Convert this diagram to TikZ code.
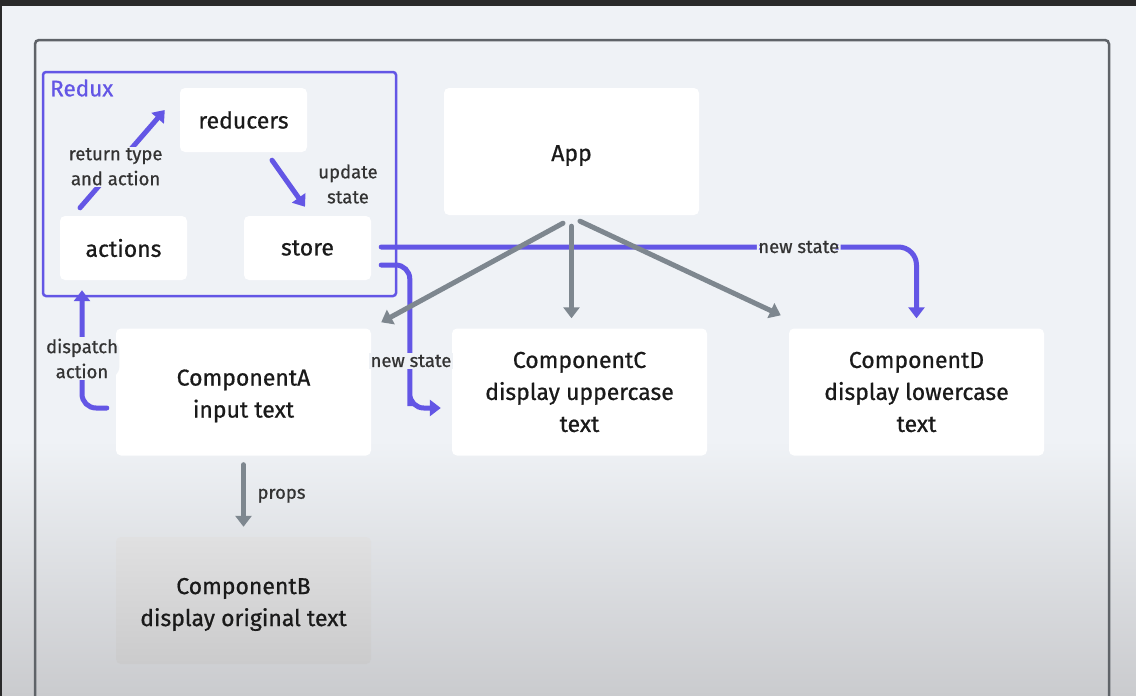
\documentclass[tikz,border=0pt]{standalone}
\usepackage{fontspec}
\setmainfont{Fira Sans}[FakeBold=0.7]
\usetikzlibrary{arrows.meta,calc}
\definecolor{bgc}{HTML}{EFF2F6}
\definecolor{bgbot}{HTML}{CACBCE}
\definecolor{darkbar}{HTML}{2A2A2A}
\definecolor{framec}{HTML}{5F6368}
\definecolor{pur}{HTML}{6356E5}
\definecolor{grayc}{HTML}{7E878F}
\definecolor{txt}{HTML}{1A1A1A}
\definecolor{lbltxt}{HTML}{333333}
\definecolor{btop}{HTML}{E0E0E1}
\definecolor{bbot}{HTML}{CBCBCC}
\newcommand{\dnstrut}{\rule{0pt}{24pt}}
\begin{document}
\begin{tikzpicture}[x=1pt,y=-1pt,
  box/.style={fill=white, rounded corners=5pt, minimum width=255pt, minimum height=127pt,
    align=center, font=\fontsize{23}{32}\selectfont, text=txt, inner sep=0pt},
  sbox/.style={box, minimum width=127pt, minimum height=64pt},
  lbl/.style={font=\fontsize{18.5}{25}\selectfont, text=lbltxt, align=center, inner sep=1.5pt},
  bglbl/.style={lbl, fill=bgc},
  parr/.style={draw=pur, line width=5pt, line cap=round, -{Triangle[length=11pt,width=16pt]}},
  garrow/.style={draw=grayc, line width=5pt, line cap=round, -{Triangle[length=11pt,width=16pt]}}
]
\useasboundingbox (0,0) rectangle (1136,696);
\clip (0,0) rectangle (1136,696);
% background
\fill[bgc] (0,0) rectangle (1136,696);
\shade[top color=bgc, bottom color=bgbot] (0,440) rectangle (1136,696);
\fill[darkbar] (0,0) rectangle (1136,6);
\fill[darkbar] (0,0) rectangle (2,696);
% outer frame
\draw[framec, line width=2.5pt, rounded corners=4pt] (35,730) -- (35,40) -- (1109,40) -- (1109,730);
% redux frame
\draw[pur, line width=2.5pt, rounded corners=3pt] (43,72) rectangle (396,296);
\node[anchor=west, text=pur, font=\fontsize{22.5}{24}\selectfont, inner sep=0pt] (reduxlbl) at (50,88) {Redux};
% boxes
\node[sbox] (reducers) at (243.5,120) {reducers};
\node[sbox] (actions) at (123.5,248) {actions};
\node[sbox] (store) at (307.5,248) {store};
\node[box] (app) at (571.5,151.5) {\dnstrut App};
\node[box] (compA) at (243.5,392) {\dnstrut ComponentA\\input text};
\node[box] (compC) at (579.5,392) {ComponentC\\display uppercase\\text};
\node[box] (compD) at (916.5,392) {ComponentD\\display lowercase\\text};
\shade[top color=btop, bottom color=bbot, rounded corners=5pt] (116,537) rectangle (371,664);
\node[box, fill=none] (compB) at (243.5,600.5) {\dnstrut ComponentB\\display original text};
% redux arrows
\draw[parr] ($(actions.north)+(-43.5,-8)$) -- node[bglbl, pos=0.42] (rtlbl) {return type\\and action} ($(reducers.west)+(-15,-10)$);
\draw[parr] ($(reducers.south)+(28.5,8)$) -- ($(store.north)+(-2.5,-9)$);
\node[lbl] (uslbl) at (348,184) {update\\state};
% new state to D
\draw[parr, rounded corners=18pt] ($(store.east)+(10,-1)$) -| node[bglbl, pos=0.39] (ns1) {new state} ($(compD.north)+(0,-10)$);
% new state to C
\draw[parr, rounded corners=14pt] ($(store.east)+(10,17)$) -| ($(compC.west)+(-42,0)$) |- ($(compC.west)+(-11,16)$);
\node[bglbl] (ns2) at (411,361) {new state};
% dispatch
\draw[parr, rounded corners=14pt] ($(compA.west)+(-9,16)$) -| node[bglbl, pos=0.71] (dplbl) {dispatch\\action} ($(actions.south)+(-41.5,10)$);
% App arrows
\draw[garrow] ($(app.south)+(-8.5,8)$) -- ($(compA.north east)+(10,-6)$);
\draw[garrow] ($(app.south)+(0,11)$) -- ($(app.south |- compC.north)+(0,-10)$);
\draw[garrow] ($(app.south)+(8.5,6)$) -- ($(compD.north west)+(-8,-13)$);
% props
\draw[garrow] ($(compA.south)+(0,9)$) -- node[lbl, right=10pt, pos=0.5] (props) {props} ($(compB.north)+(0,-10)$);
\end{tikzpicture}
\end{document}
